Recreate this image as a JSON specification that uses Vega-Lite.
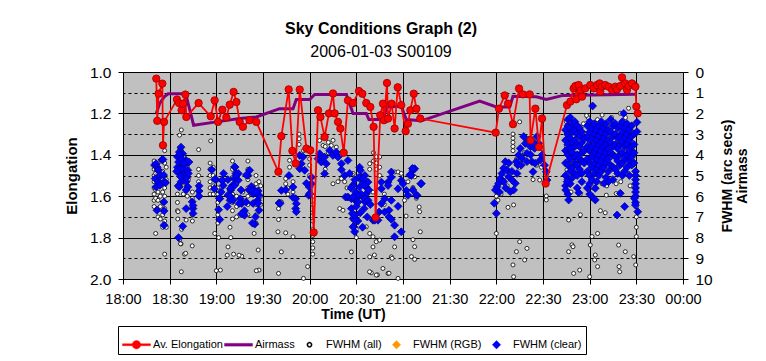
{
"$schema": "https://vega.github.io/schema/vega-lite/v6.json",
"width": 560, "height": 207,
"autosize": {"type": "none"},
"padding": {"left": 123, "top": 72, "right": 83, "bottom": 82},
"background": "white",
"title": {"text": "Sky Conditions Graph (2)", "subtitle": "2006-01-03 S00109", "fontSize": 16, "subtitleFontSize": 16, "font": "Liberation Sans", "subtitleFont": "Liberation Sans", "fontWeight": "bold", "color": "black", "subtitleColor": "black", "anchor": "middle", "dx": -22, "offset": 5, "subtitlePadding": 7},
"datasets": {
"el": [{"m":21.4,"v":1.032},{"m":22.0,"v":1.236},{"m":22.9,"v":1.105},{"m":25.3,"v":1.056},{"m":25.7,"v":1.354},{"m":26.4,"v":1.241},{"m":34.7,"v":1.133},{"m":36.0,"v":1.15},{"m":37.7,"v":1.185},{"m":38.6,"v":1.153},{"m":40.1,"v":1.109},{"m":40.7,"v":1.217},{"m":48.6,"v":1.15},{"m":56.4,"v":1.214},{"m":58.9,"v":1.137},{"m":61.1,"v":1.241},{"m":63.9,"v":1.182},{"m":66.4,"v":1.22},{"m":68.6,"v":1.158},{"m":71.1,"v":1.096},{"m":72.9,"v":1.145},{"m":75.0,"v":1.241},{"m":77.1,"v":1.265},{"m":81.4,"v":1.233},{"m":85.7,"v":1.241},{"m":99.9,"v":1.482},{"m":101.8,"v":1.31},{"m":106.5,"v":1.084},{"m":108.9,"v":1.381},{"m":111.0,"v":1.442},{"m":113.6,"v":1.085},{"m":117.9,"v":1.37},{"m":120.4,"v":1.378},{"m":122.6,"v":1.775},{"m":125.4,"v":1.185},{"m":126.9,"v":1.217},{"m":129.6,"v":1.314},{"m":132.4,"v":1.2},{"m":135.0,"v":1.104},{"m":136.1,"v":1.2},{"m":138.2,"v":1.241},{"m":139.7,"v":1.273},{"m":141.9,"v":1.39},{"m":144.6,"v":1.137},{"m":147.9,"v":1.15},{"m":151.7,"v":1.092},{"m":153.9,"v":1.105},{"m":156.4,"v":1.15},{"m":159.0,"v":1.169},{"m":161.1,"v":1.265},{"m":162.4,"v":1.703},{"m":165.4,"v":1.209},{"m":167.1,"v":1.153},{"m":167.8,"v":1.233},{"m":169.7,"v":1.053},{"m":170.4,"v":1.225},{"m":172.7,"v":1.153},{"m":174.6,"v":1.273},{"m":176.6,"v":1.074},{"m":178.9,"v":1.16},{"m":181.7,"v":1.286},{"m":183.2,"v":1.25},{"m":184.7,"v":1.185},{"m":186.9,"v":1.105},{"m":188.6,"v":1.177},{"m":191.1,"v":1.225},{"m":239.6,"v":1.293},{"m":241.7,"v":1.177},{"m":245.4,"v":1.113},{"m":247.5,"v":1.153},{"m":250.7,"v":1.252},{"m":254.6,"v":1.08},{"m":257.1,"v":1.108},{"m":261.4,"v":1.108},{"m":262.0,"v":1.33},{"m":265.1,"v":1.177},{"m":267.4,"v":1.362},{"m":269.4,"v":1.225},{"m":271.7,"v":1.539},{"m":285.4,"v":1.16},{"m":287.6,"v":1.143},{"m":289.7,"v":1.079},{"m":290.8,"v":1.068},{"m":291.4,"v":1.132},{"m":292.9,"v":1.063},{"m":294.0,"v":1.09},{"m":295.1,"v":1.119},{"m":297.2,"v":1.079},{"m":300.4,"v":1.063},{"m":302.6,"v":1.079},{"m":304.7,"v":1.063},{"m":306.4,"v":1.055},{"m":306.8,"v":1.095},{"m":307.9,"v":1.071},{"m":310.0,"v":1.063},{"m":312.2,"v":1.071},{"m":314.4,"v":1.087},{"m":316.5,"v":1.071},{"m":317.6,"v":1.084},{"m":319.7,"v":1.068},{"m":320.8,"v":1.026},{"m":322.9,"v":1.055},{"m":324.0,"v":1.087},{"m":325.0,"v":1.068},{"m":327.2,"v":1.055},{"m":329.4,"v":1.071},{"m":330.0,"v":1.167},{"m":330.9,"v":1.2}],
"am": [{"m":21.4,"v":2.0},{"m":23.5,"v":1.53},{"m":26.5,"v":1.2},{"m":29,"v":1.05},{"m":40.3,"v":1.05},{"m":45.4,"v":2.57},{"m":60,"v":2.41},{"m":75,"v":2.25},{"m":85.7,"v":2.17},{"m":100.7,"v":1.77},{"m":109.3,"v":1.77},{"m":111.4,"v":1.33},{"m":120,"v":1.33},{"m":123.2,"v":1.09},{"m":143.6,"v":1.09},{"m":147.9,"v":2.0},{"m":156.4,"v":2.0},{"m":158.1,"v":2.3},{"m":167.1,"v":2.3},{"m":169.7,"v":1.69},{"m":178.9,"v":1.66},{"m":182.1,"v":2.3},{"m":191.8,"v":2.36},{"m":229.3,"v":1.4},{"m":240,"v":1.69},{"m":248.6,"v":1.69},{"m":250.7,"v":1.17},{"m":265.7,"v":1.2},{"m":272.1,"v":1.33},{"m":282.9,"v":1.13},{"m":330,"v":1.08}],
"fa": [{"m":20,"v":4.3},{"m":20,"v":4.7},{"m":20,"v":5.0},{"m":20,"v":5.3},{"m":20,"v":5.6},{"m":20,"v":5.9},{"m":20,"v":6.2},{"m":20,"v":6.5},{"m":21,"v":4.5},{"m":21,"v":4.9},{"m":21,"v":5.2},{"m":21,"v":5.7},{"m":21,"v":6.1},{"m":21,"v":7.8},{"m":22.5,"v":4.4},{"m":22.5,"v":4.9},{"m":22.5,"v":5.4},{"m":22.5,"v":5.8},{"m":22.5,"v":6.2},{"m":22.5,"v":6.6},{"m":22.5,"v":7.0},{"m":24,"v":5.1},{"m":24,"v":5.5},{"m":24,"v":6.0},{"m":24,"v":6.5},{"m":24,"v":7.1},{"m":25.5,"v":4.8},{"m":25.5,"v":5.2},{"m":25.5,"v":5.8},{"m":25.5,"v":6.3},{"m":25.5,"v":6.9},{"m":25.5,"v":7.5},{"m":26.8,"v":3.8},{"m":26.8,"v":4.4},{"m":26.8,"v":5.6},{"m":26.8,"v":6.0},{"m":26.8,"v":6.6},{"m":26.8,"v":7.2},{"m":26.8,"v":8.8},{"m":27.8,"v":4.6},{"m":27.8,"v":5.2},{"m":27.8,"v":7.5},
{"m":35,"v":5.9},{"m":35,"v":6.3},{"m":35,"v":6.7},{"m":35.2,"v":7.1},{"m":36.4,"v":3.05},{"m":36.4,"v":3.7},{"m":36.4,"v":8.1},{"m":37.5,"v":2.8},{"m":37.5,"v":3.8},{"m":37.7,"v":7.6},{"m":37.3,"v":8.3},{"m":37.5,"v":9.65},{"m":39,"v":4.1},{"m":39.5,"v":8.8},{"m":40.3,"v":5.4},{"m":40.6,"v":7.15},{"m":40.3,"v":8.76},{"m":41.3,"v":4.6},{"m":41.3,"v":6.0},{"m":42,"v":5.2},{"m":38.8,"v":5.9},{"m":35.4,"v":6.75},{"m":37,"v":8.3},
{"m":44.6,"v":5.8},{"m":44.6,"v":6.1},{"m":44.6,"v":6.4},{"m":44.6,"v":6.9},{"m":44.6,"v":7.2},{"m":44.5,"v":8.4},{"m":48.6,"v":3.75},{"m":48.6,"v":4.7},{"m":48.6,"v":5.0},{"m":48.6,"v":5.3},{"m":48.6,"v":5.6},{"m":48.6,"v":5.9},
{"m":56,"v":4.4},{"m":56,"v":4.7},{"m":56,"v":5.0},{"m":56,"v":5.3},{"m":56,"v":5.6},{"m":56,"v":5.9},{"m":56.4,"v":3.33},{"m":58,"v":4.6},{"m":58,"v":5.0},{"m":58,"v":5.5},{"m":58,"v":5.9},{"m":59,"v":7.8},{"m":60,"v":9.6},{"m":61,"v":5.6},{"m":61,"v":5.9},{"m":61,"v":6.3},{"m":61,"v":6.6},{"m":61,"v":6.9},{"m":61,"v":7.3},{"m":61.5,"v":8.0},{"m":62.6,"v":9.57},
{"m":70.4,"v":4.3},{"m":70.4,"v":4.7},{"m":70.4,"v":5.1},{"m":70.4,"v":5.5},{"m":70.4,"v":5.9},{"m":70.4,"v":6.3},{"m":70.4,"v":6.7},{"m":70.4,"v":7.1},{"m":68.8,"v":7.5},{"m":69.3,"v":8.0},{"m":67.5,"v":8.45},{"m":67,"v":8.85},{"m":73,"v":5.4},{"m":73,"v":6.0},{"m":73,"v":6.5},{"m":73,"v":7.0},{"m":76.3,"v":8.9},{"m":77,"v":5.8},{"m":77,"v":6.3},{"m":77,"v":6.9},{"m":80.3,"v":4.3},{"m":80.3,"v":4.7},{"m":80.3,"v":5.2},{"m":80.3,"v":5.6},{"m":80.3,"v":6.0},{"m":80.3,"v":6.4},{"m":80.3,"v":6.9},{"m":84.3,"v":7.8},{"m":85.5,"v":5.0},{"m":85.5,"v":5.4},{"m":85.5,"v":5.9},{"m":85.5,"v":6.4},{"m":85.5,"v":6.9},{"m":85.5,"v":7.3},{"m":86.9,"v":8.6},{"m":87.4,"v":9.57},{"m":87.4,"v":5.3},{"m":87.4,"v":6.1},{"m":88.5,"v":5.5},{"m":88.5,"v":6.0},{"m":88.5,"v":6.4},{"m":71.1,"v":8.8},{"m":74.6,"v":8.85},{"m":85.7,"v":9.6},
{"m":100,"v":6.6},{"m":100,"v":7.13},{"m":100,"v":9.73},{"m":99.6,"v":7.72},{"m":101.8,"v":6.28},{"m":101.8,"v":8.69},{"m":104.6,"v":5.15},{"m":104.6,"v":5.4},{"m":104.6,"v":7.77},{"m":106,"v":5.6},{"m":106,"v":5.9},{"m":107.1,"v":4.27},{"m":107.1,"v":4.6},{"m":109.3,"v":5.3},{"m":109.3,"v":5.8},{"m":109.3,"v":7.96},{"m":113.2,"v":3.0},{"m":113.2,"v":3.23},{"m":113.2,"v":3.5},{"m":116,"v":9.97},{"m":116,"v":3.8},{"m":118.7,"v":9.4},{"m":120,"v":4.2},{"m":120,"v":4.5},{"m":120,"v":5.0},{"m":122,"v":6.0},{"m":122,"v":6.4},{"m":122,"v":6.8},{"m":122,"v":7.2},{"m":122,"v":7.6},{"m":122,"v":7.9},{"m":122,"v":8.2},{"m":122,"v":8.5},{"m":122,"v":8.8},
{"m":126.4,"v":3.31},{"m":128.6,"v":3.55},{"m":130,"v":3.6},{"m":130,"v":4.7},{"m":132,"v":3.4},{"m":132,"v":3.9},{"m":133.9,"v":3.55},{"m":135,"v":5.4},{"m":135,"v":3.3},{"m":137.1,"v":3.63},{"m":138.2,"v":5.3},{"m":139.3,"v":6.6},{"m":140.4,"v":5.15},{"m":140.4,"v":4.0},{"m":141.4,"v":6.68},{"m":142.5,"v":5.3},{"m":144,"v":5.6},{"m":144,"v":6.1},{"m":146.8,"v":8.69},{"m":148,"v":4.9},{"m":148,"v":5.4},{"m":150,"v":6.0},{"m":150,"v":6.9},{"m":150,"v":7.6},{"m":150,"v":8.0},{"m":152,"v":6.2},{"m":156.4,"v":7.48},{"m":158.6,"v":7.8},{"m":158.6,"v":8.93},{"m":158.6,"v":4.43},{"m":158.6,"v":4.7},{"m":159.6,"v":9.7},{"m":160.7,"v":5.8},{"m":160.7,"v":7.96},{"m":160.7,"v":8.45},{"m":161,"v":3.9},{"m":161,"v":4.3},{"m":162.8,"v":8.2},{"m":161.6,"v":8.84},{"m":158.5,"v":9.65},{"m":163.6,"v":9.8},
{"m":162.8,"v":9.81},{"m":163,"v":4.1},{"m":163,"v":4.4},{"m":163,"v":4.7},{"m":165,"v":4.1},{"m":165,"v":4.6},{"m":165,"v":5.0},{"m":165,"v":8.12},{"m":167.1,"v":9.49},{"m":168,"v":5.9},{"m":168,"v":6.4},{"m":170.4,"v":9.73},{"m":172.5,"v":8.93},{"m":173,"v":9.0},{"m":174.6,"v":4.83},{"m":174.6,"v":8.45},{"m":176.8,"v":4.83},{"m":176.8,"v":9.97},{"m":178.9,"v":4.9},{"m":181,"v":6.2},{"m":182,"v":6.96},{"m":183.2,"v":5.3},{"m":186.4,"v":4.6},{"m":186.4,"v":5.58},{"m":187.5,"v":5.06},{"m":188.6,"v":6.1},{"m":186.4,"v":8.1},{"m":187.5,"v":8.44},{"m":185.4,"v":8.92},{"m":187.5,"v":9.05},{"m":190.4,"v":6.52},{"m":190.7,"v":6.75},{"m":191.1,"v":7.72},{"m":171,"v":9.72},
{"m":240,"v":6.0},{"m":240,"v":6.2},{"m":240,"v":7.8},{"m":241,"v":6.19},{"m":247.5,"v":6.54},{"m":251.1,"v":6.42},{"m":250.7,"v":3.0},{"m":250.7,"v":3.2},{"m":250.7,"v":3.4},{"m":250.7,"v":3.6},{"m":250.7,"v":3.8},{"m":251.1,"v":9.89},{"m":250.7,"v":9.32},{"m":255,"v":8.2},{"m":252.9,"v":8.68},{"m":258.2,"v":9.08},{"m":259.7,"v":8.52},{"m":255,"v":2.41},{"m":272.1,"v":5.99},{"m":272.1,"v":6.18},{"m":267.9,"v":5.22},{"m":255,"v":4.6},{"m":247,"v":5.5},{"m":243,"v":5.9},{"m":262,"v":4.0},{"m":266,"v":4.5},{"m":258,"v":3.9},{"m":245,"v":5.1},{"m":253,"v":4.2},{"m":263.6,"v":4.4},{"m":263.6,"v":5.2},{"m":269,"v":3.7},{"m":269,"v":4.6},
{"m":286.5,"v":7.15},{"m":286.5,"v":8.68},{"m":286.5,"v":4.41},{"m":285.4,"v":4.73},{"m":288.6,"v":8.35},{"m":289.3,"v":8.44},{"m":289.7,"v":9.73},{"m":294,"v":6.9},{"m":293.6,"v":9.57},{"m":300,"v":9.89},{"m":300.4,"v":8.36},{"m":301.5,"v":7.95},{"m":303.6,"v":8.84},{"m":303.2,"v":9.08},{"m":305.1,"v":7.8},{"m":305.1,"v":9.4},{"m":306.9,"v":6.7},{"m":310,"v":6.8},{"m":310.7,"v":5.95},{"m":317.1,"v":5.87},{"m":318.6,"v":8.36},{"m":319.3,"v":9.65},{"m":318.9,"v":9.4},{"m":322.9,"v":8.68},{"m":328.3,"v":8.92},{"m":329.6,"v":9.32},{"m":330,"v":4.8},{"m":330,"v":5.2},{"m":330,"v":5.6},{"m":330,"v":6.0},{"m":330,"v":6.5},{"m":330,"v":7.0},{"m":330,"v":7.5},{"m":330,"v":7.95},{"m":319.7,"v":2.0},{"m":325,"v":1.75},{"m":308,"v":2.08},{"m":299,"v":2.2},{"m":302,"v":5.6},{"m":305,"v":2.3},{"m":311,"v":5.5},{"m":314,"v":2.2},{"m":317,"v":5.4},{"m":323,"v":2.2},{"m":326,"v":5.5},{"m":320,"v":5.3},{"m":308,"v":5.4},{"m":296,"v":2.5},{"m":285,"v":2.4},{"m":288,"v":5.8},{"m":294,"v":5.9},{"m":298,"v":2.1},{"m":285,"v":3.0},{"m":285,"v":3.6}],
"fc": [{"m":20.3,"v":4.5},{"m":20.7,"v":5.15},{"m":21.2,"v":4.43},{"m":21.2,"v":5.55},{"m":21.8,"v":6.68},{"m":22.0,"v":4.6},{"m":22.5,"v":4.74},{"m":22.5,"v":5.3},{"m":22.9,"v":4.75},{"m":23.6,"v":5.47},{"m":24,"v":5.0},{"m":25.1,"v":4.24},{"m":25.7,"v":4.23},{"m":26.1,"v":4.98},{"m":26.3,"v":5.3},{"m":26.3,"v":6.28},{"m":26.4,"v":6.71},{"m":26.4,"v":7.4},{"m":27.4,"v":5.35},
{"m":37.3,"v":3.63},{"m":36.2,"v":3.87},{"m":35,"v":4.1},{"m":38.4,"v":3.95},{"m":37.3,"v":4.35},{"m":35,"v":4.6},{"m":39.5,"v":4.5},{"m":40.6,"v":4.27},{"m":36.2,"v":4.9},{"m":39.5,"v":4.9},{"m":41.7,"v":4.75},{"m":37.3,"v":5.3},{"m":40.6,"v":5.3},{"m":36.2,"v":5.55},{"m":41.7,"v":5.55},{"m":42.4,"v":4.35},{"m":38.4,"v":5.15},{"m":35.7,"v":4.35},{"m":38.4,"v":4.67},{"m":40.6,"v":5.7},{"m":36.5,"v":4.0},{"m":37.8,"v":4.2},{"m":38.9,"v":4.4},{"m":36.8,"v":4.7},{"m":39.0,"v":5.0},{"m":41.0,"v":5.1},{"m":37.0,"v":5.05},{"m":42,"v":4.9},{"m":34.5,"v":4.8},{"m":35.5,"v":5.5},{"m":40.6,"v":6.6},{"m":38.4,"v":7.45},{"m":35.7,"v":8.0},
{"m":44.5,"v":6.27},{"m":45,"v":6.6},{"m":45,"v":6.83},{"m":45,"v":6.45},{"m":48.9,"v":5.5},{"m":48.9,"v":5.75},{"m":48.9,"v":6.0},
{"m":57.1,"v":4.72},{"m":59.8,"v":5.2},{"m":58.7,"v":5.64},{"m":62.2,"v":6.12},{"m":61.5,"v":6.65},{"m":62.2,"v":7.13},{"m":63.7,"v":5.24},{"m":64.4,"v":5.48},{"m":63.1,"v":5.8},{"m":59.1,"v":5.18},{"m":61.9,"v":6.1},{"m":63.9,"v":5.23},
{"m":71.9,"v":4.6},{"m":72.6,"v":4.9},{"m":71.5,"v":5.15},{"m":70.4,"v":5.48},{"m":69.3,"v":5.7},{"m":67.5,"v":5.95},{"m":68.8,"v":6.2},{"m":67,"v":6.5},{"m":74.1,"v":5.23},{"m":75.9,"v":5.7},{"m":75.4,"v":6.12},{"m":76.3,"v":6.36},{"m":78.1,"v":6.7},{"m":79.2,"v":6.28},{"m":80.3,"v":5.0},{"m":82.5,"v":5.53},{"m":84.7,"v":5.72},{"m":86.9,"v":5.75},{"m":87.4,"v":5.96},{"m":86.5,"v":6.2},{"m":87.4,"v":6.68},{"m":85.2,"v":7.0},{"m":84.7,"v":7.35},{"m":74.1,"v":4.9},{"m":81.4,"v":4.75},{"m":83.6,"v":5.88},{"m":78.1,"v":6.92},{"m":64.7,"v":4.9},{"m":67.5,"v":5.2},{"m":69,"v":5.63},{"m":69,"v":6.0},{"m":71.8,"v":4.58},{"m":72.9,"v":4.98},{"m":71.8,"v":5.47},{"m":70.7,"v":6.19},{"m":74.6,"v":6.35},{"m":76.1,"v":6.86},{"m":79.3,"v":4.98},{"m":81,"v":5.7},{"m":83.2,"v":5.74},{"m":83.6,"v":6.35},{"m":83.2,"v":7.3},{"m":85.7,"v":5.8},{"m":86.8,"v":6.35},
{"m":100.3,"v":6.33},{"m":101.8,"v":5.72},{"m":104.6,"v":5.69},{"m":109.3,"v":5.56},{"m":106.7,"v":5.0},{"m":111,"v":6.12},{"m":111.4,"v":6.36},{"m":111,"v":6.6},{"m":113.6,"v":4.03},{"m":115.7,"v":4.1},{"m":114.6,"v":4.43},{"m":113.6,"v":4.67},{"m":116.8,"v":4.75},{"m":119.8,"v":5.56},{"m":119.4,"v":5.96},{"m":121.1,"v":5.08},{"m":121.1,"v":5.4},{"m":101,"v":6.35},{"m":109.3,"v":6.06},{"m":111.4,"v":6.75},{"m":117.9,"v":5.38},{"m":120,"v":5.87},
{"m":125.4,"v":4.19},{"m":126.4,"v":3.95},{"m":127.5,"v":4.35},{"m":129.6,"v":4.11},{"m":130.7,"v":4.43},{"m":129.6,"v":4.91},{"m":132.9,"v":3.79},{"m":135,"v":4.03},{"m":137.1,"v":3.87},{"m":138.2,"v":4.11},{"m":140.4,"v":4.43},{"m":140.4,"v":4.72},{"m":142.5,"v":5.0},{"m":144.6,"v":4.27},{"m":143.1,"v":6.04},{"m":144.6,"v":6.04},{"m":146.8,"v":6.12},{"m":148.9,"v":6.17},{"m":146.8,"v":6.6},{"m":147.4,"v":6.84},{"m":147.9,"v":7.08},{"m":148.3,"v":7.48},{"m":148.9,"v":7.72},{"m":150,"v":6.49},{"m":151.1,"v":6.28},{"m":152.1,"v":4.6},{"m":153.2,"v":5.08},{"m":154.3,"v":5.32},{"m":156.4,"v":5.56},{"m":157.5,"v":5.32},{"m":156.4,"v":5.88},{"m":155.7,"v":6.28},{"m":152.1,"v":5.56},{"m":154.3,"v":6.04},{"m":157.5,"v":6.2},{"m":160.7,"v":7.16},{"m":145.7,"v":4.9},{"m":147.9,"v":5.47},{"m":149.5,"v":5.8},{"m":150,"v":6.1},{"m":151.5,"v":5.1},{"m":153,"v":5.9},{"m":155,"v":6.6},{"m":155.5,"v":5.0},{"m":158,"v":5.7},{"m":159,"v":6.4},{"m":157,"v":7.0},{"m":152.5,"v":6.8},{"m":149,"v":5.2},{"m":146.5,"v":5.6},{"m":151,"v":7.2},{"m":154,"v":7.5},
{"m":152.6,"v":4.75},{"m":154.3,"v":5.15},{"m":151.1,"v":5.96},{"m":155.4,"v":5.48},{"m":147.9,"v":6.04},{"m":149,"v":7.16},{"m":147.9,"v":7.48},{"m":149,"v":6.92},{"m":161.8,"v":7.16},{"m":163.9,"v":7.16},{"m":164.6,"v":6.76},{"m":166.1,"v":5.32},{"m":166.1,"v":5.64},{"m":166.1,"v":6.36},{"m":168.2,"v":6.12},{"m":168.2,"v":6.76},{"m":170.4,"v":5.32},{"m":170.4,"v":5.48},{"m":171,"v":6.68},{"m":171,"v":7.0},{"m":172.5,"v":4.83},{"m":172.5,"v":5.08},{"m":172.5,"v":6.2},{"m":174.6,"v":7.4},{"m":174.6,"v":7.96},{"m":176.8,"v":6.49},{"m":176.8,"v":5.64},{"m":178.9,"v":7.72},{"m":178.9,"v":5.24},{"m":180,"v":5.4},{"m":182.1,"v":5.72},{"m":183.2,"v":5.96},{"m":185.4,"v":5.0},{"m":186.4,"v":4.75},{"m":187.5,"v":4.67},{"m":189,"v":5.96},{"m":191.4,"v":5.4},{"m":184.3,"v":4.98},{"m":186,"v":4.66},{"m":186.4,"v":5.7},{"m":188.6,"v":5.95},{"m":191.8,"v":5.39},{"m":172.5,"v":7.12},
{"m":239.4,"v":5.7},{"m":238.7,"v":6.34},{"m":240,"v":6.83},{"m":240.4,"v":5.54},{"m":241.5,"v":5.38},{"m":242.6,"v":5.14},{"m":243.6,"v":4.9},{"m":244.7,"v":4.65},{"m":245.8,"v":4.33},{"m":246.9,"v":4.73},{"m":247.9,"v":5.06},{"m":249,"v":5.78},{"m":251.1,"v":5.7},{"m":252.2,"v":5.38},{"m":253.3,"v":4.9},{"m":253.7,"v":4.49},{"m":252.9,"v":4.33},{"m":254.4,"v":4.01},{"m":255.4,"v":3.69},{"m":257.6,"v":3.12},{"m":258.6,"v":3.45},{"m":259.7,"v":3.93},{"m":260.8,"v":3.29},{"m":261.9,"v":3.61},{"m":262.9,"v":4.33},{"m":263.6,"v":4.82},{"m":264.6,"v":3.69},{"m":266.1,"v":3.12},{"m":267.2,"v":3.45},{"m":268.3,"v":4.25},{"m":269.4,"v":4.01},{"m":272.1,"v":4.82},{"m":272.6,"v":5.22},{"m":256.5,"v":4.17},{"m":259.7,"v":4.33},{"m":265,"v":4.41},{"m":250.1,"v":5.22},{"m":244.7,"v":5.3},{"m":246,"v":5.6},{"m":248,"v":4.4},{"m":242,"v":5.8},{"m":250,"v":4.8},{"m":256,"v":4.5},{"m":262,"v":4.0},{"m":264,"v":3.4},{"m":271,"v":4.5},
{"m":284.5,"v":2.8},{"m":284.5,"v":3.3},{"m":284.5,"v":3.8},{"m":284.5,"v":4.4},{"m":284.5,"v":5.0},{"m":284.5,"v":5.5},{"m":286,"v":2.3},{"m":286,"v":2.6},{"m":286,"v":3.0},{"m":286,"v":3.5},{"m":286,"v":4.0},{"m":286,"v":4.5},{"m":286,"v":5.2},{"m":286,"v":5.9},{"m":287.5,"v":2.2},{"m":287.5,"v":2.7},{"m":287.5,"v":3.2},{"m":287.5,"v":3.7},{"m":287.5,"v":4.2},{"m":287.5,"v":4.8},{"m":287.5,"v":5.4},{"m":289,"v":2.5},{"m":289,"v":2.9},{"m":289,"v":3.4},{"m":289,"v":3.9},{"m":289,"v":4.6},{"m":289,"v":5.1},{"m":290.5,"v":2.4},{"m":290.5,"v":2.8},{"m":290.5,"v":3.3},{"m":290.5,"v":3.6},{"m":290.5,"v":4.1},{"m":290.5,"v":4.4},{"m":290.5,"v":4.9},{"m":292,"v":2.6},{"m":292,"v":3.0},{"m":292,"v":3.5},{"m":292,"v":4.0},{"m":292,"v":4.5},{"m":292,"v":5.0},{"m":292,"v":5.6},{"m":293.5,"v":2.7},{"m":293.5,"v":3.1},{"m":293.5,"v":3.6},{"m":293.5,"v":4.2},{"m":293.5,"v":4.7},{"m":295,"v":2.9},{"m":295,"v":3.4},{"m":295,"v":3.9},{"m":295,"v":4.3},{"m":295,"v":4.9},{"m":295,"v":5.3},{"m":296.5,"v":3.2},{"m":296.5,"v":3.8},{"m":296.5,"v":4.4},
{"m":298.5,"v":2.6},{"m":298.5,"v":3.1},{"m":298.5,"v":3.6},{"m":298.5,"v":4.2},{"m":298.5,"v":4.8},{"m":298.5,"v":5.6},{"m":300,"v":2.4},{"m":300,"v":2.9},{"m":300,"v":3.3},{"m":300,"v":3.8},{"m":300,"v":4.4},{"m":300,"v":5.0},{"m":300,"v":5.4},{"m":301.5,"v":2.7},{"m":301.5,"v":3.2},{"m":301.5,"v":3.6},{"m":301.5,"v":4.1},{"m":301.5,"v":4.6},{"m":301.5,"v":5.2},{"m":303,"v":2.5},{"m":303,"v":3.0},{"m":303,"v":3.5},{"m":303,"v":3.9},{"m":303,"v":4.4},{"m":303,"v":4.9},{"m":304.5,"v":2.8},{"m":304.5,"v":3.3},{"m":304.5,"v":3.7},{"m":304.5,"v":4.2},{"m":304.5,"v":4.7},{"m":304.5,"v":5.3},{"m":306,"v":2.6},{"m":306,"v":3.1},{"m":306,"v":3.5},{"m":306,"v":4.0},{"m":306,"v":4.5},{"m":306,"v":5.0},{"m":307.5,"v":2.4},{"m":307.5,"v":2.9},{"m":307.5,"v":3.4},{"m":307.5,"v":3.8},{"m":307.5,"v":4.3},{"m":307.5,"v":4.8},{"m":309,"v":2.7},{"m":309,"v":3.2},{"m":309,"v":3.6},{"m":309,"v":4.1},{"m":309,"v":4.6},{"m":310.5,"v":2.5},{"m":310.5,"v":3.0},{"m":310.5,"v":3.5},{"m":310.5,"v":3.9},{"m":310.5,"v":4.4},{"m":310.5,"v":5.1},{"m":312,"v":2.8},{"m":312,"v":3.3},{"m":312,"v":3.7},{"m":312,"v":4.2},{"m":312,"v":4.8},{"m":313.5,"v":2.3},{"m":313.5,"v":2.9},{"m":313.5,"v":3.4},{"m":313.5,"v":3.9},{"m":313.5,"v":4.5},{"m":315,"v":2.6},{"m":315,"v":3.1},{"m":315,"v":3.6},{"m":315,"v":4.0},{"m":315,"v":4.6},{"m":315,"v":5.2},{"m":316.5,"v":2.5},{"m":316.5,"v":3.0},{"m":316.5,"v":3.5},{"m":316.5,"v":4.1},{"m":316.5,"v":4.7},{"m":318,"v":2.7},{"m":318,"v":3.2},{"m":318,"v":3.7},{"m":318,"v":4.3},{"m":318,"v":4.9},{"m":319.5,"v":2.6},{"m":319.5,"v":3.1},{"m":319.5,"v":3.5},{"m":319.5,"v":4.0},{"m":319.5,"v":4.5},{"m":321,"v":2.4},{"m":321,"v":2.9},{"m":321,"v":3.4},{"m":321,"v":3.9},{"m":321,"v":4.4},{"m":321,"v":5.0},{"m":322.5,"v":2.7},{"m":322.5,"v":3.2},{"m":322.5,"v":3.6},{"m":322.5,"v":4.2},{"m":322.5,"v":4.8},{"m":324,"v":2.5},{"m":324,"v":3.0},{"m":324,"v":3.5},{"m":324,"v":4.0},{"m":324,"v":4.6},{"m":325.5,"v":2.8},{"m":325.5,"v":3.3},{"m":325.5,"v":3.8},{"m":325.5,"v":4.3},{"m":325.5,"v":5.0},{"m":327,"v":2.6},{"m":327,"v":3.1},{"m":327,"v":3.6},{"m":327,"v":4.1},{"m":327,"v":4.5},{"m":328.5,"v":3.0},{"m":328.5,"v":3.5},{"m":328.5,"v":3.9},{"m":328.5,"v":4.4},
{"m":329.5,"v":4.8},{"m":329.5,"v":5.0},{"m":329.5,"v":5.2},{"m":329.5,"v":5.4},{"m":329.5,"v":5.6},{"m":329.5,"v":5.8},{"m":329.5,"v":6.0},{"m":329.5,"v":6.3},{"m":330.4,"v":2.43},{"m":330.4,"v":2.88},{"m":330.9,"v":6.75},{"m":329.4,"v":6.43},{"m":328.7,"v":6.1},{"m":286.5,"v":6.18},{"m":293,"v":5.83},{"m":301.5,"v":6.02},{"m":303.6,"v":6.18},{"m":303.6,"v":5.62},{"m":309.3,"v":5.38},{"m":317.6,"v":6.91},{"m":322.5,"v":6.5},{"m":319.7,"v":5.86},{"m":301.9,"v":1.64},{"m":321.9,"v":2.0},{"m":284.6,"v":5.7},{"m":285.5,"v":5.3},{"m":300,"v":5.9},{"m":312,"v":5.3}]
},
"encoding": {
"x": {"field": "m", "type": "quantitative", "scale": {"domain": [0, 360], "nice": false, "zero": false},
"axis": {"values": [0,30,60,90,120,150,180,210,240,270,300,330,360], "labelExpr": "timeFormat(datetime(2006,0,3,18,datum.value),'%H:%M')", "title": "Time (UT)", "grid": true, "gridColor": "black", "gridOpacity": 1, "gridWidth": 1, "tickSize": 5, "labelPadding": 8, "labelFontSize": 14.5, "labelFlush": false, "labelOverlap": false, "titleFontSize": 14, "titlePadding": 2, "titleX": 230}}
},
"layer": [
{
"encoding": {"y": {"field": "v", "type": "quantitative", "scale": {"domain": [0, 10], "reverse": true, "nice": false, "zero": false},
"axis": {"orient": "right", "values": [0,1,2,3,4,5,6,7,8,9,10], "grid": true, "gridColor": "black", "gridOpacity": 1, "gridWidth": 1, "gridDash": {"condition": {"test": "datum.value % 2 === 1", "value": [3, 3]}, "value": []}, "title": ["FWHM (arc secs)", "Airmass"], "titleAngle": 270, "titleFontSize": 14, "titleLineHeight": 15, "labelPadding": 7, "titlePadding": 7, "labelFontSize": 15.5}}},
"layer": [
{"data": {"name": "fa"}, "mark": {"type": "point", "shape": "circle", "filled": false, "fill": "white", "fillOpacity": 1, "size": 16, "strokeWidth": 0.8, "opacity": 1},
"encoding": {"color": {"datum": "FWHM (all)", "scale": {"domain": ["Av. Elongation", "Airmass", "FWHM (all)", "FWHM (RGB)", "FWHM (clear)"], "range": ["#ff0000", "#800080", "#000000", "#ff9900", "#0000ff"]},
"legend": {"orient": "none", "legendX": -5, "legendY": 254, "direction": "horizontal", "title": null, "strokeColor": "black", "fillColor": "white", "padding": 4, "labelFontSize": 11, "labelFont": "Liberation Sans", "labelColor": "black", "symbolSize": 784, "symbolStrokeWidth": 0.4, "columnPadding": 0, "labelOffset": 2, "labelLimit": 200}}}},
{"data": {"name": "fc"}, "mark": {"type": "point", "filled": true, "size": 700, "stroke": "#000080", "strokeWidth": 0.7, "opacity": 1},
"encoding": {"color": {"datum": "FWHM (clear)"},
"shape": {"datum": "FWHM (clear)", "scale": {"domain": ["Av. Elongation", "Airmass", "FWHM (all)", "FWHM (RGB)", "FWHM (clear)"], "range": ["M-1,-0.07L1,-0.07L1,0.07L-1,0.07ZM-0.3,0A0.3,0.3,0,1,1,0.3,0A0.3,0.3,0,1,1,-0.3,0Z", "M-1,-0.1L1,-0.1L1,0.1L-1,0.1Z", "M-0.19,0A0.19,0.19,0,1,1,0.19,0A0.19,0.19,0,1,1,-0.19,0ZM-0.11,0A0.11,0.11,0,1,0,0.11,0A0.11,0.11,0,1,0,-0.11,0Z", "M0,-0.3L0.3,0L0,0.3L-0.3,0Z", "M0,-0.3L0.3,0L0,0.3L-0.3,0Z"]},
"legend": {"orient": "none", "legendX": -5, "legendY": 254, "direction": "horizontal", "title": null, "strokeColor": "black", "fillColor": "white", "padding": 4, "labelFontSize": 11, "labelFont": "Liberation Sans", "labelColor": "black", "symbolSize": 784, "symbolStrokeWidth": 0.4, "columnPadding": 0, "labelOffset": 2, "labelLimit": 200}}}},
{"data": {"name": "am"}, "mark": {"type": "line", "strokeWidth": 3},
"encoding": {"color": {"datum": "Airmass"}}}
]
},
{
"encoding": {"y": {"field": "v", "type": "quantitative", "scale": {"domain": [1, 2], "reverse": true, "nice": false, "zero": false},
"axis": {"orient": "left", "values": [1, 1.2, 1.4, 1.6, 1.8, 2], "format": ".1f", "grid": false, "title": "Elongation", "titleFontSize": 15, "labelFontSize": 15.5, "labelPadding": 7, "titlePadding": 10}}},
"layer": [
{"data": {"name": "el"}, "mark": {"type": "line", "strokeWidth": 1.8},
"encoding": {"color": {"datum": "Av. Elongation"}}},
{"data": {"name": "el"}, "mark": {"type": "point", "shape": "circle", "filled": true, "size": 55, "stroke": "#990000", "strokeWidth": 0.8, "opacity": 1},
"encoding": {"color": {"datum": "Av. Elongation"}}}
]
}
],
"resolve": {"scale": {"y": "independent"}},
"config": {
"view": {"fill": "#c0c0c0", "stroke": null},
"font": "Liberation Sans",
"axis": {"domainColor": "black", "tickColor": "black", "labelColor": "black", "titleColor": "black", "labelFont": "Liberation Sans", "titleFont": "Liberation Sans", "titleFontWeight": "bold", "tickSize": 5}
}
}
